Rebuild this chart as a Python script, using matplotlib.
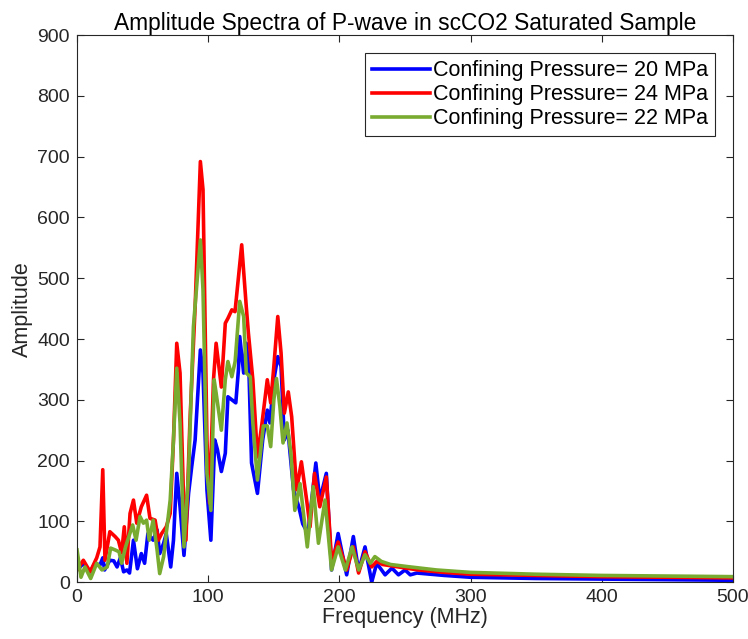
"""Amplitude spectra of the P-wave at three confining pressures."""

import matplotlib.pyplot as plt

plt.rcParams["font.family"] = ["Liberation Sans", "DejaVu Sans"]

# 20 MPa (blue)
freq_20 = [0, 5, 10, 13.7, 17.5, 19.6, 21, 25, 28, 30.5, 33, 35.5, 38, 40, 43, 46,
           49, 51.5, 54, 58, 61, 63, 66, 68, 71.4, 73.5, 76, 78.5, 81.5, 85, 87.4,
           90, 94, 96, 99, 102, 105, 107, 110, 113, 115, 118, 121, 123, 124, 127,
           129, 131, 133, 137.5, 141.5, 145, 147, 150, 153, 155.5, 158, 160.7, 165,
           169, 172, 176, 182, 185, 190, 194, 199, 205.5, 210.6, 214.6, 219.5,
           224.6, 228.4, 234.8, 240, 245, 250, 254, 259, 280, 300, 350, 400, 450, 500]
amp_20 = [20, 31, 17, 31, 28, 40, 20, 36, 35, 25, 40, 17, 20, 15, 69, 22,
          47, 31, 80, 69, 86, 47, 64, 80, 25, 69, 179, 124, 44, 146, 190,
          234, 382, 344, 152, 69, 234, 218, 182, 212, 305, 300, 295, 349, 404, 344,
          393, 349, 196, 146, 234, 283, 262, 333, 371, 355, 234, 250, 152,
          124, 96, 80, 196, 135, 179, 20, 80, 12, 75, 18, 58,
          0, 31, 12, 23, 12, 20, 12, 15, 11, 8, 6, 5, 4, 3]

# 24 MPa (red)
freq_24 = [0, 4.8, 10, 15, 17.5, 19.6, 21.3, 25, 29, 31.5, 34, 36, 38, 40.4, 43,
           45.5, 49, 53, 55.6, 59.5, 62, 64.5, 68, 71, 73.5, 76, 78.5, 81, 83, 86,
           90, 94, 96, 99, 101, 104, 106, 110, 113, 115, 118, 120.4, 125.5, 129,
           130.6, 134, 137.5, 141, 145, 147.6, 150, 153, 155.5, 158, 161, 163.6,
           167.4, 171, 175, 177.6, 181, 185, 190, 194, 199, 205.5, 210.6, 214.6,
           219.5, 224.6, 228.4, 233, 260, 280, 300, 350, 400, 450, 500]
amp_24 = [20, 36, 17, 40, 58, 185, 36, 83, 75, 69, 48, 91, 31, 113, 135,
          97, 124, 143, 105, 102, 69, 80, 91, 113, 234, 393, 344, 152, 69, 262,
          453, 692, 646, 234, 130, 333, 393, 321, 426, 434, 448, 445, 555, 453,
          410, 333, 206, 262, 333, 295, 355, 437, 377, 278, 313, 272,
          152, 198, 135, 91, 179, 124, 173, 36, 66, 20, 58, 15,
          50, 25, 34, 29, 20, 16, 13, 11, 9, 8, 7]

# 22 MPa (green)
freq_22 = [0, 3, 6, 10.4, 15, 19, 23, 25.6, 29, 32, 34, 37, 39.5, 42.4, 45, 48,
           50.6, 53, 55, 58, 61, 63, 66, 68, 71, 73.5, 76, 78.5, 81.5, 85, 88.7,
           94, 96, 99, 102, 104.5, 106, 110, 113, 115, 118, 120.5, 124, 127, 129,
           132, 134, 137.5, 142, 145, 147.6, 150, 152, 154.6, 157, 160, 163, 166,
           170, 175.5, 180, 184, 189, 194, 199, 204.5, 209.6, 214.7, 219.5, 223.5,
           227, 232, 239, 254, 274, 300, 350, 400, 450, 500]
amp_22 = [53, 8, 25, 6, 31, 20, 25, 56, 53, 50, 31, 58, 75, 94, 69, 108,
          97, 102, 69, 102, 53, 14, 42, 80, 135, 234, 352, 262, 58, 179, 420,
          563, 481, 179, 118, 333, 311, 250, 333, 363, 338, 363, 462, 437, 344,
          338, 262, 168, 257, 257, 223, 300, 335, 289, 229, 262, 212, 118,
          162, 58, 157, 64, 135, 20, 58, 20, 58, 20, 45, 31,
          42, 34, 29, 25, 20, 16, 13, 11, 10, 9]

dark = (0.15, 0.15, 0.15)

fig = plt.figure(figsize=(7.48, 6.39), dpi=100)
ax = fig.add_axes([0.103, 0.089, 0.877, 0.856])

ax.plot(freq_20, amp_20, color=(0, 0, 1), lw=2.6, label="Confining Pressure= 20 MPa")
ax.plot(freq_24, amp_24, color=(1, 0, 0), lw=2.6, label="Confining Pressure= 24 MPa")
ax.plot(freq_22, amp_22, color=(0.47, 0.67, 0.19), lw=2.6, label="Confining Pressure= 22 MPa")

ax.set_xlim(0, 500)
ax.set_ylim(0, 900)
ax.set_xticks(range(0, 501, 100))
ax.set_yticks(range(0, 901, 100))
ax.tick_params(direction="in", length=5, top=True, right=True, labelsize=14,
               colors=dark, pad=5)
for spine in ax.spines.values():
    spine.set_color(dark)

ax.set_xlabel("Frequency (MHz)", fontsize=15.5, color=dark, labelpad=1)
ax.set_ylabel("Amplitude", fontsize=15.5, color=dark, labelpad=3)
ax.set_title("Amplitude Spectra of P-wave in scCO2 Saturated Sample", fontsize=16.4, pad=4)

leg = ax.legend(loc="upper right", fontsize=15.5, handlelength=2.7, borderaxespad=0.85,
                fancybox=False, framealpha=1, labelspacing=0.15, borderpad=0.3,
                handletextpad=0.15, handleheight=0.6)
leg.get_frame().set_edgecolor(dark)
leg.get_frame().set_linewidth(0.8)

fig.savefig("out.png", dpi=100)
plt.close(fig)
